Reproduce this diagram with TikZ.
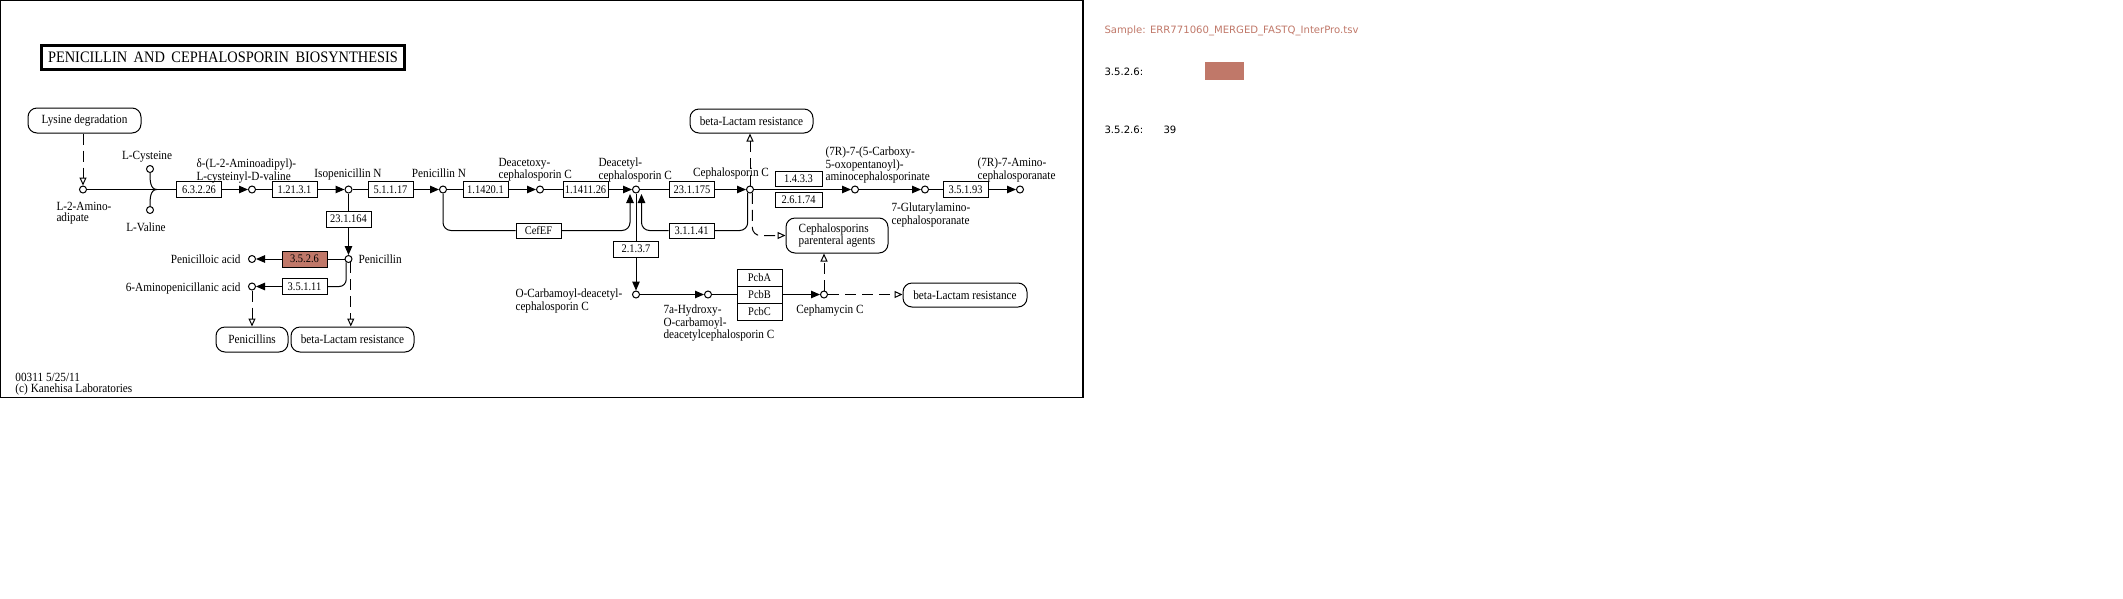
\documentclass[tikz,border=0pt]{standalone}
\usepackage{fontspec}
\setmainfont{Liberation Serif}[FakeStretch=0.9]
\newfontfamily\panelfont{DejaVu Sans}
\usetikzlibrary{arrows.meta}
\definecolor{kbrown}{RGB}{192,120,105}
\begin{document}
\begin{tikzpicture}[x=1pt,y=-1pt,line width=1pt,
  font=\fontsize{12.5}{11}\selectfont,
  cpd/.style={circle,draw,fill=white,minimum size=7pt,inner sep=0pt},
  enz/.style={draw,fill=white,minimum width=45pt,minimum height=16pt,inner sep=0pt,font=\fontsize{11.6}{11}\selectfont},
  hl/.style={fill=kbrown},
  mlink/.style={draw,rounded corners=9pt,minimum height=25pt,inner sep=0pt},
  lbl/.style={inner sep=0pt,align=left},
  arr/.style={-{Triangle[length=9pt,width=7.5pt]}},
  dlink/.style={dash pattern=on 11pt off 6pt,-{Triangle[open,length=8pt,width=7pt]}},
  pnl/.style={anchor=west,inner sep=0pt,font=\panelfont\fontsize{10.1}{11}\selectfont}]
\useasboundingbox (0,0) rectangle (2123,598);
% frame
\draw[line width=1.3pt] (0.65,0.65) rectangle (1083,397.5);
% title
\node[draw,line width=2.7pt,minimum width=363pt,minimum height=24.3pt,inner sep=0pt,
  font=\fontsize{16}{16}\selectfont] (title) at (223,57.5)
  {PENICILLIN\hspace{6.5pt}AND\hspace{6.5pt}CEPHALOSPORIN\hspace{6.5pt}BIOSYNTHESIS};
% compounds and enzymes, main line
\node[cpd] (aad) at (83,189.5) {};
\node[cpd] (cys) at (150,169) {};
\node[cpd] (val) at (150,210) {};
\coordinate (j1) at (157,189.5);
\node[enz] (e63226) at (199,189.5) {6.3.2.26};
\node[cpd] (acv) at (252,189.5) {};
\node[enz] (e12131) at (294.5,189.5) {1.21.3.1};
\node[cpd] (ipn) at (348.5,189.5) {};
\node[enz] (e51117) at (390.5,189.5) {5.1.1.17};
\node[cpd] (pn) at (443,189.5) {};
\node[enz] (e114201) at (485.5,189.5) {1.1420.1};
\node[cpd] (daoc) at (540,189.5) {};
\node[enz] (e1141126) at (585.5,189.5) {1.1411.26};
\node[cpd] (dac) at (636,189.5) {};
\node[enz] (e231175) at (692,189.5) {23.1.175};
\node[cpd] (cpc) at (750,189.5) {};
\node[enz,minimum width=47pt,minimum height=15pt] (e1433) at (798.5,178.5) {1.4.3.3};
\node[enz,minimum width=47pt,minimum height=15pt] (e26174) at (798.5,199.5) {2.6.1.74};
\node[cpd] (r75) at (855,189.5) {};
\node[cpd] (glut) at (925,189.5) {};
\node[enz] (e35193) at (965.5,189.5) {3.5.1.93};
\node[cpd] (aca) at (1020,189.5) {};
% penicillin branch
\node[enz] (e231164) at (348.5,219) {23.1.164};
\node[cpd] (pen) at (348.5,259) {};
\node[enz,hl] (e3526) at (304.5,259) {3.5.2.6};
\node[cpd] (pa) at (252,259) {};
\node[enz] (e35111) at (304.5,286.5) {3.5.1.11};
\node[cpd] (apa) at (252,286.5) {};
% cephalosporin branch
\node[enz,minimum height=15pt] (cefef) at (538.5,230.5) {CefEF};
\node[enz,minimum height=15pt] (e31141) at (691.5,230.5) {3.1.1.41};
\node[enz] (e2137) at (636,249) {2.1.3.7};
\node[cpd] (ocdac) at (636,294.5) {};
\node[cpd] (ah7) at (708,294.5) {};
\node[enz,minimum height=17pt] (pcbA) at (759.5,277.5) {PcbA};
\node[enz,minimum height=17pt] (pcbB) at (759.5,294.5) {PcbB};
\node[enz,minimum height=17pt] (pcbC) at (759.5,311.5) {PcbC};
\node[cpd] (cmc) at (824,294.5) {};
\coordinate (dacL) at (630,194);
\coordinate (dacR) at (641.5,194);
% map links
\node[mlink,minimum width=113pt] (lys) at (84.5,120.5) {Lysine degradation};
\node[mlink,minimum width=72pt] (pens) at (252,339.5) {Penicillins};
\node[mlink,minimum width=123pt] (bl1) at (352.5,339.5) {beta-Lactam resistance};
\node[mlink,minimum width=123pt,minimum height=24pt] (bl2) at (751.5,121) {beta-Lactam resistance};
\node[mlink,minimum width=102pt,minimum height=35pt,align=left] (cpa) at (837,235.5) {Cephalosporins\\parenteral agents};
\node[mlink,minimum width=124pt,minimum height=24pt] (bl3) at (965,295) {beta-Lactam resistance};
% labels
\node[lbl,anchor=north west] (laad) at (56,201.5) {L-2-Amino-\\adipate};
\node[lbl,anchor=north] (lcys) at (147,150.5) {L-Cysteine};
\node[lbl,anchor=north] (lval) at (146,222.5) {L-Valine};
\node[lbl,anchor=north west] (lacv) at (196,158.5) {δ-(L-2-Aminoadipyl)-\\L-cysteinyl-D-valine};
\node[lbl,anchor=north] (lipn) at (348,168.5) {Isopenicillin N};
\node[lbl,anchor=north] (lpn) at (439,168.5) {Penicillin N};
\node[lbl,anchor=north west] (ldaoc) at (498,157.5) {Deacetoxy-\\cephalosporin C};
\node[lbl,anchor=north west] (ldac) at (598,157.5) {Deacetyl-\\cephalosporin C};
\node[lbl,anchor=north] (lcpc) at (731,167.5) {Cephalosporin C};
\node[lbl,anchor=north west] (lr75) at (825,146.5) {(7R)-7-(5-Carboxy-\\5-oxopentanoyl)-\\aminocephalosporinate};
\node[lbl,anchor=north west] (lglut) at (891,202.5) {7-Glutarylamino-\\cephalosporanate};
\node[lbl,anchor=north west] (laca) at (977,157.5) {(7R)-7-Amino-\\cephalosporanate};
\node[lbl,anchor=north west] (lpen) at (358,254.5) {Penicillin};
\node[lbl,anchor=north east] (lpa) at (241,254.5) {Penicilloic acid};
\node[lbl,anchor=north east] (lapa) at (241,282.5) {6-Aminopenicillanic acid};
\node[lbl,anchor=north west] (locdac) at (515,288.5) {O-Carbamoyl-deacetyl-\\cephalosporin C};
\node[lbl,anchor=north west] (lah7) at (663,304.5) {7a-Hydroxy-\\O-carbamoyl-\\deacetylcephalosporin C};
\node[lbl,anchor=north] (lcmc) at (830,304.5) {Cephamycin C};
\node[lbl,anchor=north west] (foot) at (15,372.5) {00311 5/25/11\\(c) Kanehisa Laboratories};
% connectors
\draw[dlink] (lys.south -| aad) -- (aad.north);
\draw (aad) -- (e63226);
\draw (cys.south) to[out=270,in=180] (j1);
\draw (val.north) to[out=90,in=180] (j1);
\draw[arr] (e63226) -- (acv);
\draw (acv) -- (e12131);
\draw[arr] (e12131) -- (ipn);
\draw (ipn) -- (e51117);
\draw[arr] (e51117) -- (pn);
\draw (pn) -- (e114201);
\draw[arr] (e114201) -- (daoc);
\draw (daoc) -- (e1141126);
\draw[arr] (e1141126) -- (dac);
\draw (dac) -- (e231175);
\draw[arr] (e231175) -- (cpc);
\draw[arr] (cpc) -- (r75);
\draw[arr] (r75) -- (glut);
\draw (glut) -- (e35193);
\draw[arr] (e35193) -- (aca);
\draw (ipn) -- (e231164);
\draw[arr] (e231164) -- (pen);
\draw (pen) -- (e3526);
\draw[arr] (e3526) -- (pa);
\draw[rounded corners=7pt] (pen.-125) |- (e35111.east);
\draw[arr] (e35111) -- (apa);
\draw[dlink] (pen.-55) -- (pen.-55 |- bl1.north);
\draw[dlink] (apa) -- (pens);
\draw[rounded corners=8pt] (pn.south) |- (cefef.west);
\draw[arr,rounded corners=8pt] (cefef.east) -| (dacL);
\draw[rounded corners=8pt] (cpc.-125) |- (e31141.east);
\draw[arr,rounded corners=8pt] (e31141.west) -| (dacR);
\draw (dac) -- (e2137);
\draw[arr] (e2137) -- (ocdac);
\draw[arr] (ocdac) -- (ah7);
\draw (ah7) -- (pcbB);
\draw[arr] (pcbB) -- (cmc);
\draw[dlink] (cmc) -- (cmc |- cpa.south);
\draw[dlink] (cmc) -- (cmc -| bl3.west);
\draw[dlink] (cpc) -- (cpc |- bl2.south);
\draw[dlink,rounded corners=8pt] (cpc.-55) |- (cpa.west);
% side panel
\node[pnl,text=kbrown] (sample) at (1104,31) {Sample: ERR771060\_MERGED\_FASTQ\_InterPro.tsv};
\node[pnl] (k1) at (1104,72) {3.5.2.6:};
\node[fill=kbrown,minimum width=39pt,minimum height=18pt,inner sep=0pt,anchor=north west] (sw) at (1204,61) {};
\node[pnl] (k2) at (1104,130) {3.5.2.6:};
\node[pnl] (v2) at (1163,130) {39};
\end{tikzpicture}
\end{document}
